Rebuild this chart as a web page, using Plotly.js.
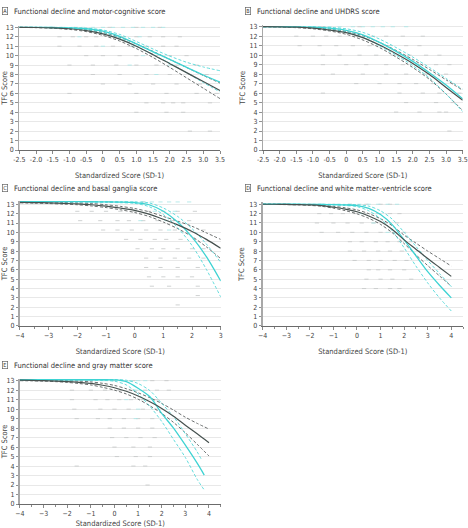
<!DOCTYPE html>
<html>
<head>
<meta charset="utf-8">
<script src="https://cdn.plot.ly/plotly-3.0.1.min.js"></script>
<style>html,body{margin:0;padding:0;background:#fff;}#chart{width:468px;height:528px;}</style>
</head>
<body>
<div id="chart"></div>
<script>
// ---------- DATA ----------
const panelTitles = [
  "Functional decline and motor-cognitive score",
  "Functional decline and UHDRS score",
  "Functional decline and basal ganglia score",
  "Functional decline and white matter–ventricle score",
  "Functional decline and gray matter score"
];
const panelLetters = ["A", "B", "C", "D", "E"];
const xTitle = "Standardized Score (SD-1)";
const yTitle = "TFC Score";

const tickValsAB = [-2.5,-2,-1.5,-1,-0.5,0,0.5,1,1.5,2,2.5,3,3.5];
const tickTextAB = ["-2.5","-2.0","-1.5","-1.0","-0.5","0","0.5","1.0","1.5","2.0","2.5","3.0","3.5"];

// Panel A
const xA = [-2.5,-2,-1.5,-1,-0.5,0,0.5,1,1.5,2,2.5,3,3.5];
const grayA    = [13.0,12.98,12.94,12.85,12.65,12.3,11.75,11.0,10.1,9.15,8.2,7.25,6.3];
const grayHiA  = [13.0,13.0,12.97,12.9,12.75,12.45,11.95,11.25,10.45,9.6,8.75,7.9,7.1];
const grayLoA  = [13.0,12.96,12.9,12.78,12.55,12.15,11.55,10.75,9.8,8.75,7.65,6.55,5.45];
const cyanA    = [13.0,13.0,12.98,12.95,12.85,12.6,12.05,11.25,10.4,9.6,8.75,7.95,7.2];
const cyanHiA  = [13.0,13.0,13.0,12.98,12.92,12.72,12.25,11.5,10.7,9.95,9.3,8.8,8.4];
const cyanLoA  = [13.0,13.0,12.96,12.9,12.75,12.45,11.85,11.0,10.1,9.2,8.2,7.15,6.15];
const ptsGrayAx = [-1.5,-0.8,0.2,1.0,1.7, -1.3,-0.9,-0.5,-0.2,0.2,0.6,1.0,1.4,1.8,2.3, -1.3,-0.7,-0.2,0.3,0.8,1.3,1.8,2.2, -0.5,0,0.5,1.0,1.6,2.0,2.5, -1.0,-0.3,0.4,1.0,1.6,2.2,2.8, -0.3,0.5,1.3,2.0,2.6,3.1, 0.0,0.8,1.5,2.2,2.9, -1.0,1.0,1.9,2.8,3.4, 1.3,1.8,2.1,2.4,3.2, 1.0,1.9,2.4, 2.6,3.2];
const ptsGrayAy = [13,13,13,13,13, 12,12,12,12,12,12,12,12,12,12, 11,11,11,11,11,11,11,11, 10,10,10,10,10,10,10, 9,9,9,9,9,9,9, 8,8,8,8,8,8, 7,7,7,7,7, 6,6,6,6,6, 5,5,5,5,5, 4,4,4, 2,2];
const ptsCyanAx = [-1.2,-0.9,-0.6,-0.3,0.0,0.3,0.6,0.9,1.2,1.5,1.8, -0.7,0.4,1.1, 0.0,0.9, 1.2, 0.8,2.0, 1.6];
const ptsCyanAy = [13,13,13,13,13,13,13,13,13,13,13, 12,12,12, 11,11, 10, 9,9, 8];

// Panel B
const xB = [-2.5,-2,-1.5,-1,-0.5,0,0.5,1,1.5,2,2.5,3,3.5];
const grayB    = [13.0,12.99,12.95,12.85,12.65,12.37,11.85,11.07,10.15,9.13,7.95,6.6,5.25];
const grayHiB  = [13.0,13.0,12.97,12.9,12.75,12.5,12.05,11.35,10.5,9.55,8.5,7.4,6.3];
const grayLoB  = [13.0,12.97,12.9,12.78,12.55,12.2,11.6,10.8,9.8,8.7,7.45,5.9,4.15];
const cyanB    = [13.0,13.0,12.99,12.95,12.85,12.62,12.15,11.35,10.4,9.35,8.15,6.85,5.4];
const cyanHiB  = [13.0,13.0,13.0,12.98,12.93,12.78,12.4,11.7,10.8,9.8,8.7,7.55,6.4];
const cyanLoB  = [13.0,13.0,12.97,12.9,12.75,12.45,11.9,11.0,10.0,8.9,7.6,5.9,4.05];
const ptsGrayBx = [-1.5,-0.7,0.4, -1.5,-1.0,-0.6,-0.2,0.3,0.8,1.2,1.7,2.3, -1.4,-0.8,-0.3,0.2,0.7,1.3,1.8,2.2, -0.7,-0.2,0.4,0.9,1.4,1.9,2.4,2.8, -0.7,0.0,0.6,1.2,1.7,2.2,2.7,3.1, -0.4,0.5,1.2,1.8,2.4,3.0, 0.3,1.0,1.6,2.1,2.6,3.2, -0.7,1.6,2.3,2.8,3.4, 1.8,2.7,3.2, 1.5,2.2,2.8,3.0, 3.1];
const ptsGrayBy = [13,13,13, 12,12,12,12,12,12,12,12,12, 11,11,11,11,11,11,11,11, 10,10,10,10,10,10,10,10, 9,9,9,9,9,9,9,9, 8,8,8,8,8,8, 7,7,7,7,7,7, 6,6,6,6,6, 5,5,5, 4,4,4,4, 2];
const ptsCyanBx = [-1.0,-0.5,-0.2,0.2,0.5,0.8,1.1,1.4,1.8, 0.6, 1.0];
const ptsCyanBy = [13,13,13,13,13,13,13,13,13, 12, 11];

// Panel C
const xC = [-4,-3.5,-3,-2.5,-2,-1.5,-1,-0.5,0,0.5,1,1.5,2,2.5,3];
const grayC    = [13.2,13.18,13.15,13.1,13.05,12.95,12.8,12.6,12.35,11.95,11.4,10.8,10.1,9.25,8.3];
const grayHiC  = [13.28,13.26,13.24,13.2,13.15,13.08,12.95,12.78,12.55,12.2,11.7,11.2,10.65,9.95,9.25];
const grayLoC  = [13.15,13.12,13.08,13.02,12.95,12.82,12.65,12.42,12.12,11.7,11.1,10.4,9.55,8.45,7.2];
const cyanC    = [13.28,13.28,13.28,13.28,13.28,13.27,13.26,13.24,13.18,12.95,12.25,11.1,9.5,7.4,4.8];
const cyanHiC  = [13.3,13.3,13.3,13.3,13.3,13.3,13.29,13.28,13.25,13.15,12.6,11.7,10.4,8.75,6.8];
const cyanLoC  = [13.26,13.26,13.26,13.25,13.24,13.22,13.2,13.17,13.1,12.75,11.9,10.5,8.6,6.05,3.1];
const ptsGrayCx = [-1.5,-0.9,0.3, -2.0,-1.5,-1.0,-0.5,0.0,0.5,1.0,1.5,2.1, -1.9,-1.2,-0.6,-0.2,0.3,0.8,1.3,1.9, -1.1,-0.6,-0.1,0.4,0.9,1.4,1.9,2.4, -0.3,0.2,0.7,1.1,1.6,2.1, 0.1,0.6,1.0,1.5,2.0,2.4, 0.4,0.9,1.4,1.9,2.4, 0.4,0.9,1.5,2.2, 0.5,1.0,1.5,2.0, 0.6,1.2,2.2, 2.2, 1.5];
const ptsGrayCy = [13.25,13.25,13.25, 12.25,12.25,12.25,12.25,12.25,12.25,12.25,12.25,12.25, 11.25,11.25,11.25,11.25,11.25,11.25,11.25,11.25, 10.25,10.25,10.25,10.25,10.25,10.25,10.25,10.25, 9.25,9.25,9.25,9.25,9.25,9.25, 8.25,8.25,8.25,8.25,8.25,8.25, 7.25,7.25,7.25,7.25,7.25, 6.25,6.25,6.25,6.25, 5.25,5.25,5.25,5.25, 4.25,4.25,4.25, 3.25, 2.25];
const ptsCyanCx = [-0.6,-0.3,0.0,0.3,0.6,0.9,1.2,1.5,1.9, 0.7,1.4, 0.2,1.1, 1.2];
const ptsCyanCy = [13.25,13.25,13.25,13.25,13.25,13.25,13.25,13.25,13.25, 12.25,12.25, 11.25,11.25, 10.25];

// Panel D
const xD = [-4,-3.5,-3,-2.5,-2,-1.5,-1,-0.5,0,0.5,1,1.5,2,2.5,3,3.5,4];
const grayD    = [13.0,13.0,12.98,12.96,12.93,12.85,12.68,12.48,12.2,11.75,11.15,10.3,9.2,8.2,7.2,6.25,5.3];
const grayHiD  = [13.0,13.0,13.0,12.98,12.96,12.9,12.78,12.62,12.4,12.0,11.45,10.7,9.7,8.85,8.0,7.2,6.4];
const grayLoD  = [13.0,12.98,12.96,12.93,12.88,12.78,12.58,12.32,11.98,11.5,10.85,9.95,8.8,7.6,6.45,5.35,4.25];
const cyanD    = [13.0,13.0,13.0,13.0,12.99,12.98,12.96,12.93,12.86,12.57,11.9,10.8,9.2,7.5,5.8,4.35,3.0];
const cyanHiD  = [13.0,13.0,13.0,13.0,13.0,13.0,12.99,12.98,12.95,12.8,12.3,11.4,10.0,8.5,7.0,5.6,4.2];
const cyanLoD  = [13.0,13.0,13.0,12.99,12.98,12.96,12.92,12.86,12.75,12.3,11.45,10.15,8.35,6.4,4.6,3.0,1.6];
const ptsGrayDx = [-2.0,-1.0,-0.3,0.4,1.0,1.4, -1.6,-1.1,-0.6,-0.1,0.4,0.9,1.4,1.8, -1.7,-1.0,-0.4,0.2,0.7,1.2,1.7, -1.5,-0.8,-0.2,0.4,1.0,1.6,2.0, -0.3,0.2,0.8,1.3,1.8,2.3, -0.3,0.3,0.9,1.4,1.9, -0.1,0.5,1.0,1.6,2.1, 0.5,0.9,1.4,2.0, 0.4,1.0,1.5,2.3, 0.3,0.8,1.4,1.8];
const ptsGrayDy = [13,13,13,13,13,13, 12,12,12,12,12,12,12,12, 11,11,11,11,11,11,11, 10,10,10,10,10,10,10, 9,9,9,9,9,9, 8,8,8,8,8, 7,7,7,7,7, 6,6,6,6, 5,5,5,5, 4,4,4,4];
const ptsCyanDx = [-1.5,-0.8,-0.3,0.1,0.5,0.9,1.3,1.7, 0.2,0.9, 0.7, 1.3];
const ptsCyanDy = [13,13,13,13,13,13,13,13, 12,12, 11, 10];

// Panel E
const xE = [-4,-3.5,-3,-2.5,-2,-1.5,-1,-0.5,0,0.5,1,1.5,2,2.5,3,3.5,4];
const grayE    = [13.05,13.03,13.0,12.95,12.9,12.82,12.72,12.52,12.26,11.88,11.38,10.78,10.08,9.25,8.3,7.4,6.46];
const grayHiE  = [13.1,13.08,13.06,13.03,13.0,12.95,12.87,12.72,12.5,12.15,11.72,11.2,10.6,9.9,9.15,8.5,7.9];
const grayLoE  = [13.0,12.98,12.95,12.9,12.82,12.7,12.55,12.3,12.0,11.6,11.05,10.35,9.55,8.6,7.5,6.3,5.06];
const xEc = [-4,-3.5,-3,-2.5,-2,-1.5,-1,-0.5,0,0.5,1,1.5,2,2.5,3,3.5,3.8];
const cyanE    = [13.1,13.1,13.1,13.1,13.1,13.1,13.1,13.1,13.08,12.9,12.2,11.3,9.55,8.0,6.2,4.3,3.05];
const xEcHi = [-4,-3.5,-3,-2.5,-2,-1.5,-1,-0.5,0,0.5,1,1.5,2,2.5,3,3.5,3.7];
const cyanHiE  = [13.12,13.12,13.12,13.12,13.12,13.12,13.12,13.12,13.12,13.05,12.7,11.95,10.6,9.2,7.4,5.5,4.6];
const cyanLoE  = [13.08,13.08,13.08,13.08,13.08,13.07,13.05,13.02,12.95,12.55,11.6,10.3,8.7,6.8,4.9,2.6,1.48];
const ptsGrayEx = [-2.0,-1.0,0.0,0.8,1.6,2.2, -1.8,-1.0,-0.4,0.2,0.8,1.3,1.8,2.3, -1.8,-0.8,-0.3,0.2,0.7,1.2,1.8, -1.7,-0.6,0.0,0.6,1.2,1.8, -1.6,-0.7,-0.2,0.4,1.0,1.6, -0.2,0.4,1.0,1.6, -0.1,0.5,1.1,1.7, 0.0,0.8,1.5, 0.1,0.9,1.5, -1.6,0.8,1.3, 1.4];
const ptsGrayEy = [13,13,13,13,13,13, 12,12,12,12,12,12,12,12, 11,11,11,11,11,11,11, 10,10,10,10,10,10, 9,9,9,9,9,9, 8,8,8,8, 7,7,7,7, 6,6,6, 5,5,5, 4,4,4, 2];
const ptsCyanEx = [-1.0,-0.5,-0.1,0.3,0.7,1.0,1.3, 0.9, 0.5,1.3, 1.0, 0.9];
const ptsCyanEy = [13,13,13,13,13,13,13, 12, 11,11, 10, 9];

// ---------- STYLE ----------
const FONT = "'Liberation Sans Narrow', 'DejaVu Sans Condensed', 'Arial Narrow', sans-serif";
const GRAY = "#46514f", GRAYD = "#5a5f5f", CYAN = "#3ed3d3", CYAND = "#52d8d8";
const PGRAY = "#c4c6c6", PCYAN = "#a6e6e6";

const traces = [];
function addPanel(ax, pg, pc, lines) {
  const xa = ax === 1 ? "x" : "x" + ax, ya = ax === 1 ? "y" : "y" + ax;
  traces.push({x: pg[0], y: pg[1], xaxis: xa, yaxis: ya, type: "scatter", mode: "markers",
    marker: {symbol: "line-ew-open", size: 3, color: PGRAY, line: {color: PGRAY, width: 0.8}}, hoverinfo: "skip"});
  traces.push({x: pc[0], y: pc[1], xaxis: xa, yaxis: ya, type: "scatter", mode: "markers",
    marker: {symbol: "line-ew-open", size: 3, color: PCYAN, line: {color: PCYAN, width: 0.8}}, hoverinfo: "skip"});
  lines.forEach(l => {
    traces.push({x: l[0], y: l[1], xaxis: xa, yaxis: ya, type: "scatter", mode: "lines",
      line: {color: l[2], width: l[3], dash: l[4], shape: "spline", smoothing: 0.8}, hoverinfo: "skip"});
  });
}
function lineSet(x, g, gh, gl, xc, c, xch, ch, cl) {
  return [
    [x, gh, GRAYD, 0.9, "3px,2px"], [x, gl, GRAYD, 0.9, "3px,2px"],
    [xch, ch, CYAND, 0.9, "3px,2px"], [xc, cl, CYAND, 0.9, "3px,2px"],
    [xc, c, CYAN, 1.3, "solid"], [x, g, GRAY, 1.2, "solid"]
  ];
}
addPanel(1, [ptsGrayAx, ptsGrayAy], [ptsCyanAx, ptsCyanAy], lineSet(xA, grayA, grayHiA, grayLoA, xA, cyanA, xA, cyanHiA, cyanLoA));
addPanel(2, [ptsGrayBx, ptsGrayBy], [ptsCyanBx, ptsCyanBy], lineSet(xB, grayB, grayHiB, grayLoB, xB, cyanB, xB, cyanHiB, cyanLoB));
addPanel(3, [ptsGrayCx, ptsGrayCy], [ptsCyanCx, ptsCyanCy], lineSet(xC, grayC, grayHiC, grayLoC, xC, cyanC, xC, cyanHiC, cyanLoC));
addPanel(4, [ptsGrayDx, ptsGrayDy], [ptsCyanDx, ptsCyanDy], lineSet(xD, grayD, grayHiD, grayLoD, xD, cyanD, xD, cyanHiD, cyanLoD));
addPanel(5, [ptsGrayEx, ptsGrayEy], [ptsCyanEx, ptsCyanEy], lineSet(xE, grayE, grayHiE, grayLoE, xEc, cyanE, xEcHi, cyanHiE, cyanLoE));

const W = 468, H = 528;
function xAxis(domain, range, extra) {
  return Object.assign({
    domain: domain, range: range, showgrid: false, zeroline: false,
    showline: true, linecolor: "#6b6b6b", linewidth: 1,
    ticks: "outside", ticklen: 3, tickcolor: "#6b6b6b", tickwidth: 0.8,
    tickfont: {family: FONT, size: 7, color: "#444"}, ticklabeloverflow: "allow",
    title: {text: xTitle, font: {family: FONT, size: 7.5, color: "#444"}, standoff: 9},
    automargin: false, fixedrange: true
  }, extra);
}
function yAxis(domain, range, anchor) {
  return {
    domain: domain, range: range, anchor: anchor,
    tickvals: [0,1,2,3,4,5,6,7,8,9,10,11,12,13],
    showgrid: true, gridcolor: "#e2e2e2", gridwidth: 0.8, zeroline: false,
    showline: true, linecolor: "#a8a8a8", linewidth: 1.5,
    ticks: "outside", ticklen: 2.5, tickcolor: "#777", tickwidth: 0.8,
    tickfont: {family: FONT, size: 7, color: "#444"}, ticklabeloverflow: "allow",
    title: {text: yTitle, font: {family: FONT, size: 7.5, color: "#444"}, standoff: 3},
    automargin: false, fixedrange: true
  };
}
const minorHalf = {minor: {dtick: 0.5, ticks: "outside", ticklen: 2, tickcolor: "#6b6b6b", showgrid: false}};
const abTicks = {tickmode: "array", tickvals: tickValsAB, ticktext: tickTextAB};
const intTicks = {tickmode: "linear", tick0: -4, dtick: 1};

const titleY = [11, 11, 188, 188.5, 365];
const boxX = [5, 248, 5, 248, 5];
const textX = [12.3, 254.7, 12.3, 254.7, 12.3];
const annotations = [];
for (let i = 0; i < 5; i++) {
  annotations.push({xref: "paper", yref: "paper", x: boxX[i] / W, y: 1 - titleY[i] / H,
    xanchor: "center", yanchor: "middle", text: panelLetters[i], showarrow: false,
    font: {family: FONT, size: 5.5, color: "#333"}, bordercolor: "#666", borderwidth: 0.7, borderpad: 0.5});
  annotations.push({xref: "paper", yref: "paper", x: textX[i] / W, y: 1 - titleY[i] / H,
    xanchor: "left", yanchor: "middle", text: panelTitles[i], showarrow: false,
    font: {family: FONT, size: 7.5, color: "#333"}});
}

const layout = {
  width: W, height: H, margin: {l: 0, r: 0, t: 0, b: 0},
  paper_bgcolor: "#fff", plot_bgcolor: "#fff", showlegend: false, hovermode: false,
  xaxis:  xAxis([0.0412, 0.4701], [-2.5, 3.5], Object.assign({anchor: "y"}, abTicks)),
  yaxis:  yAxis([0.7159, 0.9509], [0, 13.15], "x"),
  xaxis2: xAxis([0.5620, 0.9887], [-2.5, 3.5], Object.assign({anchor: "y2"}, abTicks)),
  yaxis2: yAxis([0.7159, 0.9521], [0, 13.15], "x2"),
  xaxis3: xAxis([0.0427, 0.4716], [-4, 3], Object.assign({anchor: "y3"}, intTicks, minorHalf)),
  yaxis3: yAxis([0.3826, 0.6193], [0, 13.35], "x3"),
  xaxis4: xAxis([0.5613, 0.9895], [-4, 4.5], Object.assign({anchor: "y4"}, intTicks, minorHalf)),
  yaxis4: yAxis([0.3826, 0.6167], [0, 13.2], "x4"),
  xaxis5: xAxis([0.0427, 0.4718], [-4, 4.5], Object.assign({anchor: "y5"}, intTicks, minorHalf)),
  yaxis5: yAxis([0.04545, 0.2826], [0, 13.2], "x5"),
  annotations: annotations
};
Plotly.newPlot("chart", traces, layout, {staticPlot: true, displayModeBar: false});
</script>
</body>
</html>
